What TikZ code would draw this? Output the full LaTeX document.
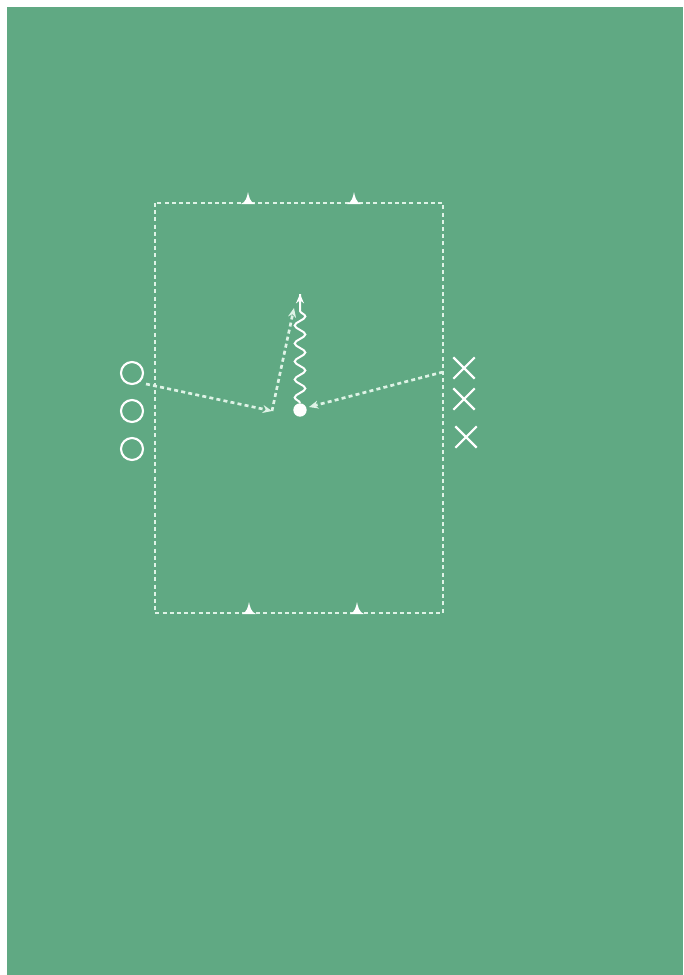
\documentclass[tikz,border=0pt]{standalone}
\usetikzlibrary{arrows.meta,decorations.pathmorphing,shapes.misc}
\definecolor{pitch}{RGB}{96,169,131}
\definecolor{chalk}{RGB}{222,243,230}
\begin{document}
\begin{tikzpicture}[x=0.75pt,y=-0.75pt,
  line/.style={chalk, line width=2pt, dash pattern=on 3pt off 2.4pt},
  pass/.style={line, -{Stealth[length=7pt,width=6pt]}},
  conefill/.style={fill=white, draw=none},
  opp/.style={circle, draw=white, line width=1.6pt, minimum size=16.5pt, inner sep=0pt},
  att/.style={cross out, draw=white, line width=1.6pt, minimum size=14.5pt, inner sep=0pt},
  ballnode/.style={circle, fill=white, minimum size=10pt, inner sep=0pt},
  dribble/.style={white, line width=1.5pt, decorate,
    decoration={snake, amplitude=4pt, segment length=13.5pt, post length=7pt}}
]
\useasboundingbox (0,0) rectangle (683,975);
\fill[white] (0,0) rectangle (683,975);
\fill[pitch] (7,7) rectangle (683,975);

% area
\coordinate (tl) at (155,203);
\coordinate (br) at (443,613);
\draw[line] (tl) rectangle (br);

% cones
\foreach \cx/\cy in {248/204, 354/204, 249/614, 357/614}{
  \fill[conefill] (\cx-7,\cy) .. controls (\cx-2,\cy-2) and (\cx-1,\cy-7) .. (\cx,\cy-12)
     .. controls (\cx+1,\cy-7) and (\cx+2,\cy-2) .. (\cx+7,\cy) -- cycle;
}

% defenders (circles)
\node[opp] (o1) at (132,373) {};
\node[opp] (o2) at (132,411) {};
\node[opp] (o3) at (132,449) {};

% attackers (crosses)
\node[att] (x1) at (464,368) {};
\node[att] (x2) at (464,399) {};
\node[att] (x3) at (466,437) {};

% ball
\node[ballnode] (ball) at (300,410) {};

% passes and runs
\coordinate (p1s) at (146,384);
\coordinate (recv) at (272,411);
\coordinate (runend) at (294,308);
\coordinate (p2s) at (443,372);
\coordinate (p2e) at (309,407);
\coordinate (drib) at (300,294);

\draw[pass] (p1s) -- (recv);
\draw[pass] (recv) -- (runend);
\draw[pass] (p2s) -- (p2e);
\draw[dribble] (ball.north) -- (drib);
\draw[white, line width=1.5pt, -{Stealth[length=7pt,width=6pt]}] (300,303) -- (drib);
\end{tikzpicture}
\end{document}
